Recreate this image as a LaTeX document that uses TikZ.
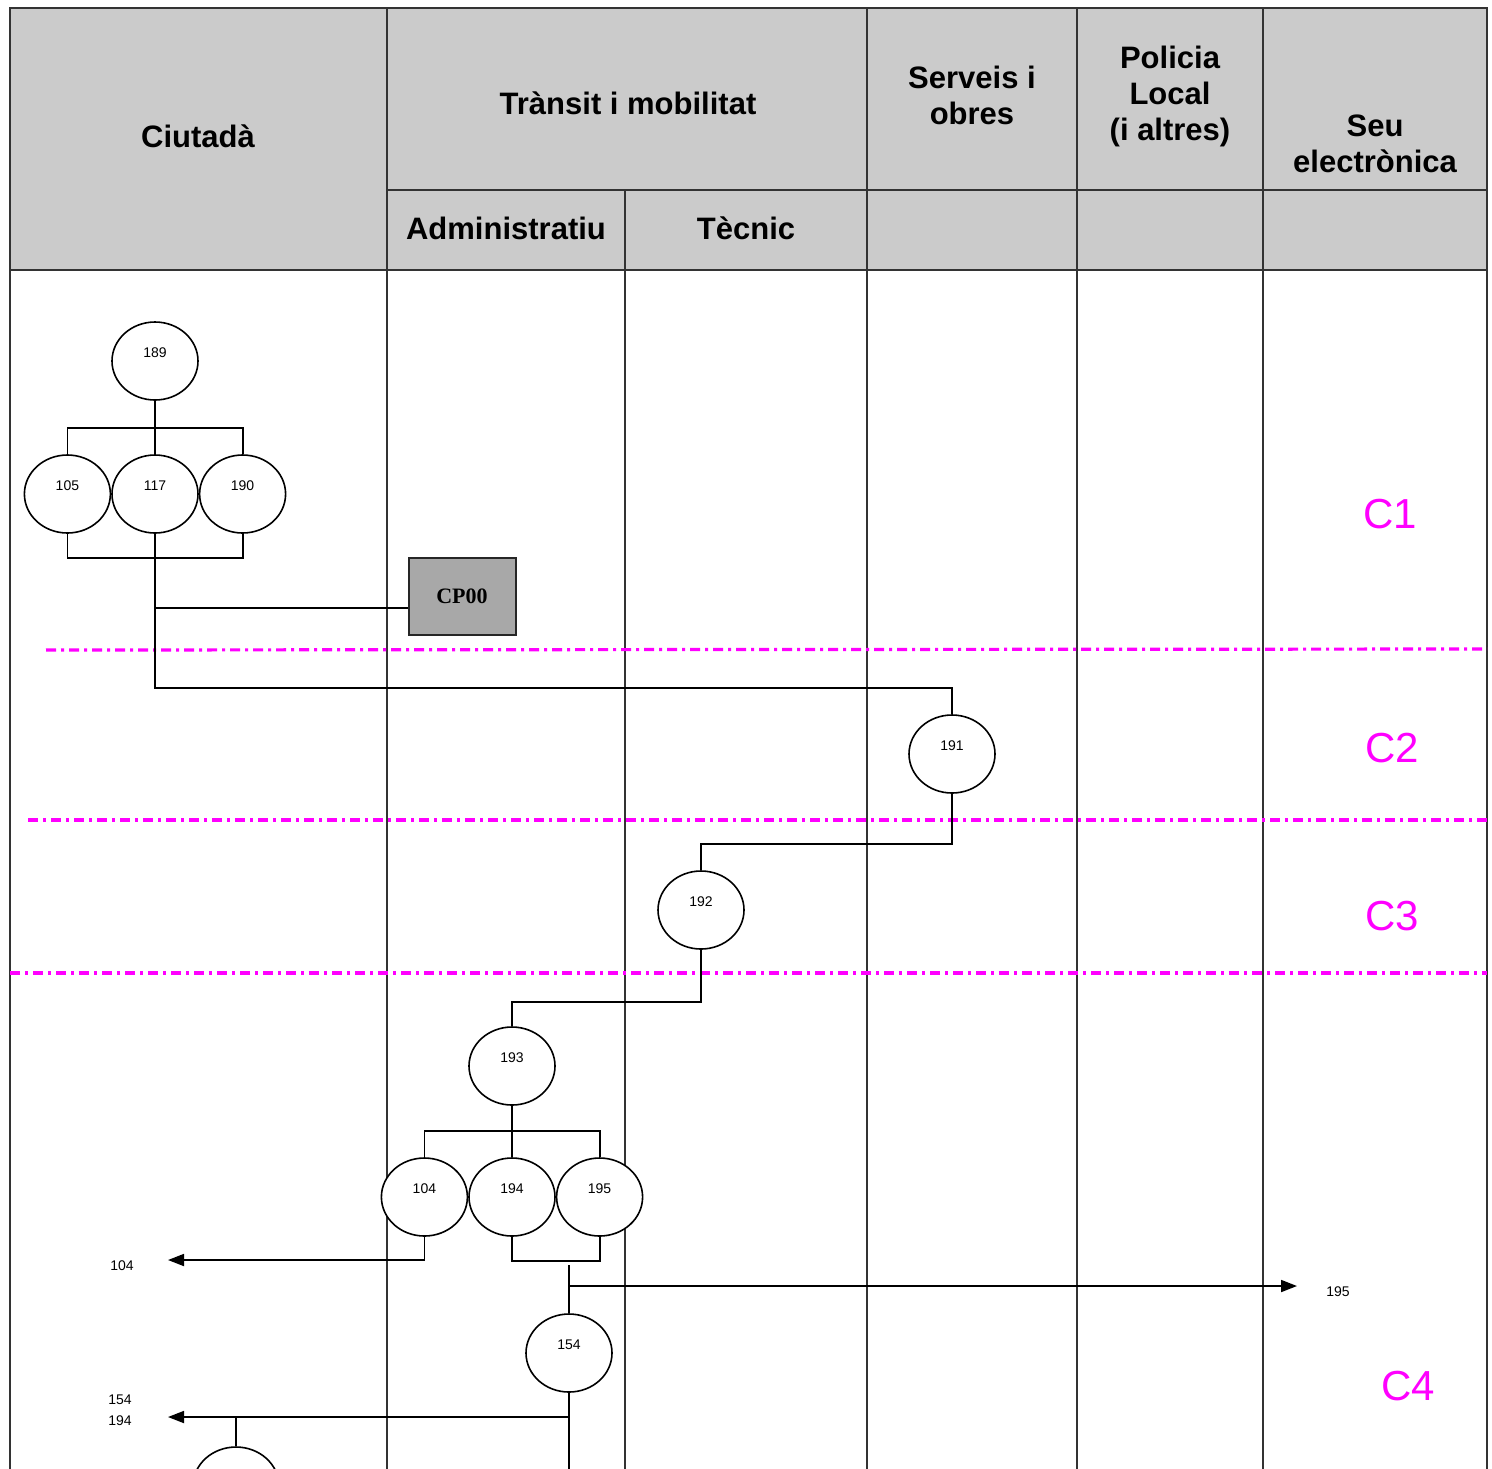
\documentclass[tikz,border=0pt]{standalone}
\usepackage{fontspec}
\setmainfont{Liberation Sans}
\newfontfamily\cpfont{Liberation Serif}
\usetikzlibrary{shapes.geometric, arrows.meta, positioning}
\definecolor{hdrgray}{HTML}{CBCBCB}
\definecolor{boxgray}{HTML}{A8A8A8}
\definecolor{phasemag}{RGB}{255,0,255}

\begin{document}
\begin{tikzpicture}[
  x=0.5pt, y=-0.5pt,
  >={Triangle[length=8pt,width=6pt]},
  node distance=0pt,
  every node/.style={align=center},
  lane/.style={draw=black!80, line width=1pt},
  hdr/.style={font=\fontsize{15.5}{18}\selectfont\bfseries, inner sep=0pt},
  task/.style={ellipse, draw, fill=white, line width=0.8pt,
               minimum width=43pt, minimum height=39pt, inner sep=0pt,
               font=\fontsize{7}{8}\selectfont, text height=5pt, text depth=9pt},
  ctrl/.style={draw=black!85, line width=1pt, fill=boxgray,
               minimum width=53.5pt, minimum height=38.5pt,
               font=\cpfont\bfseries\fontsize{11}{12}\selectfont},
  link/.style={line width=0.9pt},
  arr/.style={->, line width=0.9pt},
  ref/.style={font=\fontsize{7}{10.5}\selectfont, inner sep=0pt},
  phase/.style={draw=phasemag, line width=1.6pt,
                dash pattern=on 5pt off 2.5pt on 1.5pt off 2.5pt},
  phaselbl/.style={text=phasemag, font=\fontsize{21}{24}\selectfont}
]
\clip (0,0) rectangle (1492,1468);

\fill[hdrgray] (10,8) rectangle (1487,270);
\draw[lane] (10,1480) -- (10,8) -- (1487,8) -- (1487,1480);
\draw[lane] (387,190) -- (1487,190);
\draw[lane] (10,270) -- (1487,270);
\foreach \x in {387,867,1077,1263}
  \draw[lane] (\x,8) -- (\x,1480);
\draw[lane] (625,190) -- (625,1480);

\node[hdr] (hciu) at (198,136) {Ciutadà};
\node[hdr] (htra) at (628,103) {Trànsit i mobilitat};
\node[hdr] (hadm) at (506,228) {Administratiu};
\node[hdr] (htec) at (746,228) {Tècnic};
\node[hdr] (hser) at (972,95) {Serveis i\\obres};
\node[hdr] (hpol) at (1170,96) {Policia\\Local\\(i altres)};
\node[hdr] (hseu) at (1375,144) {Seu\\electrònica};

\draw[phase] (46,650) -- (1487,649);
\draw[phase] (28,820) -- (1487,820);
\draw[phase] (10,973) -- (1487,973);
\node[phaselbl] (c1) at (1390,514) {C1};
\node[phaselbl] (c2) at (1392,748) {C2};
\node[phaselbl] (c3) at (1392,916) {C3};
\node[phaselbl] (c4) at (1408,1386) {C4};

\node[task] (n189) at (155,361) {189};
\node[task] (n117) at (155,494) {117};
\node[task, left=of n117] (n105) {105};
\node[task, right=of n117] (n190) {190};
\node[ctrl] (cp00) at (462,596) {CP00};
\coordinate (j1) at (155,608);
\draw[link] (n189) -- (n117);
\draw[link] (n105.north) -- ++(0,-26) -| (n190.north);
\draw[link] (n105.south) -- ++(0,24) -| (n190.south);
\draw[link] (j1) -- (j1 -| cp00.west);

\node[task] (n191) at (952,754) {191};
\node[task] (n192) at (701,910) {192};
\node[task] (n193) at (512,1066) {193};
\draw[link] (n117.south) -- ++(0,154) -| (n191.north);
\draw[link] (n191.south) -- ++(0,50) -| (n192.north);
\draw[link] (n192.south) -- ++(0,52) -| (n193.north);

\node[task] (n194) at (512,1197) {194};
\node[task, left=of n194] (n104) {104};
\node[task, right=of n194] (n195) {195};
\draw[link] (n193) -- (n194);
\draw[link] (n104.north) -- ++(0,-26) -| (n195.north);
\draw[link] (n194.south) -- ++(0,24) -| (n195.south);

\node[task] (n154) at (569,1353) {154};
\node[task] (nbot) at (236,1486) {};

\coordinate (to104) at (168,1260);
\coordinate (to195) at (1297,1286);
\coordinate (to154) at (168,1417);
\coordinate (j2) at (569,1265);
\coordinate (j3) at (569,1286);
\coordinate (j4) at (569,1417);

\draw[arr] (n104.south) |- (to104);
\draw[link] (j2) -- (n154.north);
\draw[arr] (j3) -- (to195);
\draw[link] (n154.south) -- ++(0,100);
\draw[arr] (j4) -- (to154);
\draw[link] (nbot.north |- j4) -- (nbot.north);

\node[ref] (l104) at (122,1266) {104};
\node[ref] (l195) at (1338,1292) {195};
\node[ref] (l154) at (120,1410) {154\\194};

\end{tikzpicture}
\end{document}
